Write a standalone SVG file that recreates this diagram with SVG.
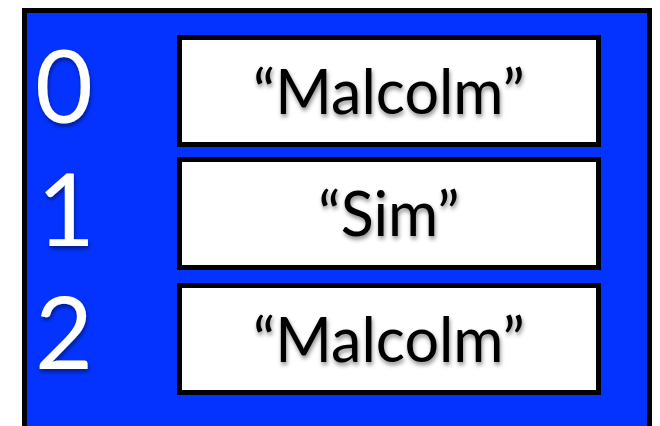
<svg xmlns="http://www.w3.org/2000/svg" width="660" height="426" viewBox="0 0 660 426">
  <defs>
    <filter id="shadow" x="-20%" y="-30%" width="140%" height="160%">
      <feDropShadow dx="1" dy="3" stdDeviation="2" flood-color="#000" flood-opacity="0.45"/>
    </filter>
  </defs>
  <style>
    .frame { fill: #0433FF; stroke: #000; stroke-width: 5; }
    .cell { fill: #fff; stroke: #000; stroke-width: 5; }
    .idx { font-family: Lato, "Open Sans", sans-serif; font-size: 100px; fill: #fff; text-anchor: middle; filter: url(#shadow); }
    .val { font-family: Lato, "Open Sans", sans-serif; font-size: 61px; fill: #000; text-anchor: middle; filter: url(#shadow); }
  </style>

  <!-- array container -->
  <g id="array">
    <rect class="frame" x="24.5" y="10.5" width="625" height="440"/>
  </g>

  <!-- index labels -->
  <g id="index-0"><text class="idx" x="64" y="123">0</text></g>
  <g id="index-1"><text class="idx" x="66" y="246">1</text></g>
  <g id="index-2"><text class="idx" x="64" y="369">2</text></g>

  <!-- array slots -->
  <g id="slot-0">
    <rect class="cell" x="179.5" y="37.5" width="419" height="107"/>
    <text class="val" x="389" y="114">“Malcolm”</text>
  </g>
  <g id="slot-1">
    <rect class="cell" x="179.5" y="159.5" width="419" height="108"/>
    <text class="val" x="389" y="236">“Sim”</text>
  </g>
  <g id="slot-2">
    <rect class="cell" x="179.5" y="285.5" width="419" height="107"/>
    <text class="val" x="389" y="362">“Malcolm”</text>
  </g>

  <g id="connectors"/>
</svg>
